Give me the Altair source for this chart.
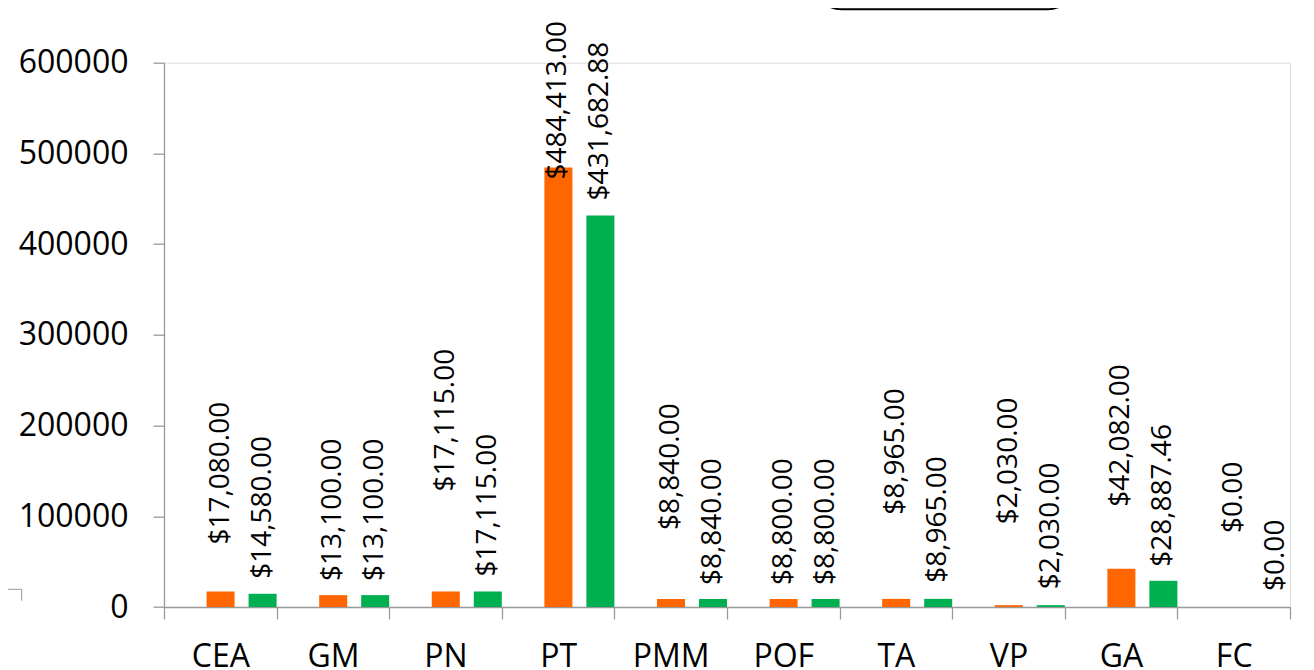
import altair as alt
import pandas as pd

# ---- data ----
categories = ["CEA", "GM", "PN", "PT", "PMM", "POF", "TA", "VP", "GA", "FC"]
series_names = ["Serie 1", "Serie 2"]
values_s1 = [17080.00, 13100.00, 17115.00, 484413.00, 8840.00, 8800.00, 8965.00, 2030.00, 42082.00, 0.00]
values_s2 = [14580.00, 13100.00, 17115.00, 431682.88, 8840.00, 8800.00, 8965.00, 2030.00, 28887.46, 0.00]
y_ticks = [0, 100000, 200000, 300000, 400000, 500000, 600000]

# label placement (gap in px between bar top and label start, as in the reference)
label_gap_s1 = [47, 14, 100, -12, 69, 14, 84, 81, 62, 74]
label_gap_s2 = [15, 14, 15, 15, 14, 14, 16, 16, 14, 16]

colors = ["#FF6600", "#00B050"]
axis_gray = "#999999"
FONT = "Open Sans"

PLOT_W = 1126
PLOT_H = 544.3
Y_MAX = 600000

rows = []
for i, c in enumerate(categories):
    rows.append({"cat": c, "series": series_names[0], "value": values_s1[i], "gap": label_gap_s1[i]})
    rows.append({"cat": c, "series": series_names[1], "value": values_s2[i], "gap": label_gap_s2[i]})
df = pd.DataFrame(rows)

x_enc = alt.X("cat:N", sort=categories,
              scale=alt.Scale(domain=categories, paddingInner=0, paddingOuter=0),
              axis=alt.Axis(title=None, labelAngle=0, labelFont=FONT, labelFontSize=32,
                            labelColor="black", domainColor=axis_gray, tickColor=axis_gray,
                            domainWidth=1.3, tickWidth=1.3,
                            tickSize=12, tickBand="extent", labelPadding=22, grid=False))
xoff_enc = alt.XOffset("series:N",
                       scale=alt.Scale(domain=series_names, paddingInner=0.333,
                                       paddingOuter=0.507, align=1))
y_scale = alt.Scale(domain=[0, Y_MAX], nice=False)

bars = alt.Chart(df).mark_bar().encode(
    x=x_enc,
    xOffset=xoff_enc,
    y=alt.Y("value:Q", scale=y_scale,
            axis=alt.Axis(title=None, values=y_ticks, format="d", labelFont=FONT,
                          labelFontSize=32, labelColor="black", domainColor=axis_gray,
                          tickColor=axis_gray, domainWidth=1.3, tickWidth=1.3,
                          tickSize=11, labelPadding=25, grid=False)),
    color=alt.Color("series:N", scale=alt.Scale(domain=series_names, range=colors), legend=None),
)

labels = alt.Chart(df).transform_calculate(
    lab_y=f"datum.value + datum.gap * {Y_MAX} / {PLOT_H}"
).mark_text(angle=270, align="left", baseline="middle", font=FONT, fontSize=28,
            color="black").encode(
    x=alt.X("cat:N", sort=categories),
    xOffset=xoff_enc,
    y=alt.Y("lab_y:Q", scale=y_scale),
    text=alt.Text("value:Q", format="$,.2f"),
)

dummy = pd.DataFrame({"d": [0]})
# legend frame cut off at the top of the picture
frame = alt.Chart(dummy).mark_rect(cornerRadius=30, fill=None, stroke="black",
                                   strokeWidth=2, filled=False).encode(
    x=alt.value(648), x2=alt.value(913), y=alt.value(-130), y2=alt.value(-53.4))
# small corner mark at the lower left
corner_h = alt.Chart(dummy).mark_rule(color=axis_gray, strokeWidth=1).encode(
    x=alt.value(-160), x2=alt.value(-142.3), y=alt.value(526.6))
corner_v = alt.Chart(dummy).mark_rule(color=axis_gray, strokeWidth=1).encode(
    x=alt.value(-142.3), y=alt.value(526.6), y2=alt.value(538))

chart = alt.layer(bars, labels, frame, corner_h, corner_v).properties(
    width=PLOT_W, height=PLOT_H,
    autosize=alt.AutoSizeParams(type="none"),
    padding={"left": 156, "top": 54.7, "right": 14, "bottom": 63},
).configure_view(strokeWidth=0).configure(font=FONT)

chart.save("out.html", embed_options={"renderer": "svg", "actions": False})
